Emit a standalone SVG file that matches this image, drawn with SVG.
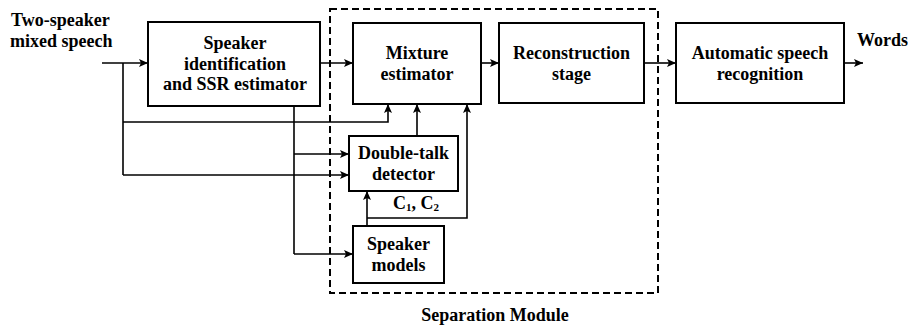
<svg xmlns="http://www.w3.org/2000/svg" width="908" height="331" viewBox="0 0 908 331">
  <defs>
    <marker id="arrow" markerUnits="userSpaceOnUse" markerWidth="10" markerHeight="8" refX="9" refY="4" orient="auto">
      <path d="M0,0 L9,4 L0,8 L2,4 Z" fill="#000"/>
    </marker>
    <style>
      .box { fill: #fff; stroke: #000; stroke-width: 2; }
      .frame { fill: none; stroke: #000; stroke-width: 2; stroke-dasharray: 7 4; }
      .wire { fill: none; stroke: #000; stroke-width: 1.6; }
      .arr { marker-end: url(#arrow); }
      text { font-family: "Liberation Serif", "Times New Roman", serif; font-weight: bold; font-size: 18px; fill: #000; }
      .mid { text-anchor: middle; }
    </style>
  </defs>
  <rect width="908" height="331" fill="#fff"/>

  <!-- separation module frame -->
  <g id="separation-module">
    <rect class="frame" x="330" y="9" width="328" height="284"/>
    <text class="mid" x="495" y="321">Separation Module</text>
  </g>

  <!-- connectors -->
  <g id="connectors">
    <path class="wire arr" d="M102,63 H148"/>
    <path class="wire" d="M123,63 V175"/>
    <path class="wire arr" d="M123,122 H388 V104"/>
    <path class="wire arr" d="M123,175 H349"/>
    <path class="wire arr" d="M320,63 H353"/>
    <path class="wire" d="M294,106 V254"/>
    <path class="wire arr" d="M294,154 H349"/>
    <path class="wire arr" d="M294,254 H353"/>
    <path class="wire arr" d="M481,63 H499"/>
    <path class="wire arr" d="M644,63 H676"/>
    <path class="wire arr" d="M844,63 H863"/>
    <path class="wire arr" d="M417,136 V104"/>
    <path class="wire arr" d="M367,226 V191"/>
    <path class="wire arr" d="M367,218 H467 V104"/>
  </g>

  <g id="input-label">
    <text x="11" y="26">Two-speaker</text>
    <text x="10" y="47">mixed speech</text>
  </g>

  <g id="speaker-id">
    <rect class="box" x="148" y="22" width="172" height="84"/>
    <text class="mid" x="235" y="49">Speaker</text>
    <text class="mid" x="235" y="69.5">identification</text>
    <text class="mid" x="235" y="90">and SSR estimator</text>
  </g>

  <g id="mixture-estimator">
    <rect class="box" x="353" y="23" width="128" height="81"/>
    <text class="mid" x="417" y="59">Mixture</text>
    <text class="mid" x="417" y="80">estimator</text>
  </g>

  <g id="reconstruction">
    <rect class="box" x="499" y="23" width="145" height="80"/>
    <text class="mid" x="571.5" y="59">Reconstruction</text>
    <text class="mid" x="571.5" y="80">stage</text>
  </g>

  <g id="asr">
    <rect class="box" x="676" y="23" width="168" height="80"/>
    <text class="mid" x="760" y="59">Automatic speech</text>
    <text class="mid" x="760" y="80">recognition</text>
  </g>

  <g id="words-label">
    <text x="857" y="46">Words</text>
  </g>

  <g id="double-talk">
    <rect class="box" x="349" y="136" width="109" height="55"/>
    <text class="mid" x="403.5" y="159">Double-talk</text>
    <text class="mid" x="403.5" y="180">detector</text>
  </g>

  <g id="speaker-models">
    <rect class="box" x="353" y="226" width="91" height="57"/>
    <text class="mid" x="398.5" y="250">Speaker</text>
    <text class="mid" x="398.5" y="271">models</text>
  </g>

  <g id="c-label">
    <text x="393" y="209">C<tspan font-size="11" dy="2">1</tspan><tspan dy="-2">, C</tspan><tspan font-size="11" dy="2">2</tspan></text>
  </g>
</svg>
